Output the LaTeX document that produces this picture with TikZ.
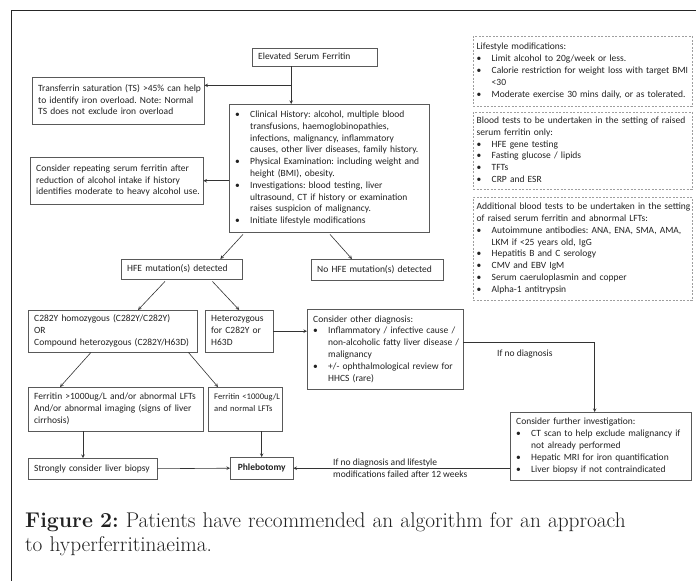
\documentclass[tikz,border=0pt]{standalone}
\usepackage{fontspec}
\newfontfamily\calibri{Carlito}
\usetikzlibrary{arrows}
\frenchspacing
\definecolor{boxline}{gray}{0.35}
\definecolor{dashline}{gray}{0.62}
\definecolor{inktext}{gray}{0.13}
\tikzstyle{process} = [
    rectangle,
    anchor=north west,
    align=left,
    inner xsep=6pt,
    inner ysep=1pt,
    draw=boxline,
    text=inktext,
    font=\calibri\fontsize{9.5}{11.8}\selectfont
]
\tikzstyle{notebox} = [
    process,
    inner xsep=3.5pt,
    draw=dashline,
    dash pattern=on 2pt off 1.5pt
]
\tikzstyle{labeltext} = [
    inner sep=0pt,
    align=left,
    text=inktext,
    font=\calibri\fontsize{9.5}{11.8}\selectfont
]
\tikzstyle{captiontext} = [
    anchor=north west,
    inner sep=0pt,
    align=left,
    text width=670pt,
    text=inktext,
    font=\fontsize{21.3}{24.5}\selectfont
]
\tikzstyle{arrow} = [->,>=stealth,draw=black!80,line width=0.6pt]
\newcommand{\bitem}{\makebox[15pt][l]{\textbullet}}
\newcommand{\bcont}{\hspace*{15pt}}
\newcommand{\boxlines}[1]{\begin{tabular}{@{}l@{}}#1\end{tabular}}

\begin{document}
\begin{tikzpicture}[x=1pt,y=-1pt]
\useasboundingbox (0,0) rectangle (696,581);
\draw [line width=1pt, black!85] (696,10) -- (11,10) -- (11,581);

\node (elevated) [process, text width=113pt, minimum height=18pt] at (252,48)
{\boxlines{Elevated Serum Ferritin}};

\node (transferrin) [process, text width=160pt, minimum height=47pt] at (32,77)
{\boxlines{Transferrin saturation (TS) >45\% can help\\to identify iron overload. Note: Normal\\TS does not exclude iron overload}};

\node (clinical) [process, text width=188pt, minimum height=128pt] at (229,104)
{\boxlines{\bitem Clinical History: alcohol, multiple blood\\\bcont transfusions, haemoglobinopathies,\\\bcont infections, malignancy, inflammatory\\\bcont causes, other liver diseases, family history.\\\bitem Physical Examination: including weight and\\\bcont height (BMI), obesity.\\\bitem Investigations: blood testing, liver\\\bcont ultrasound, CT if history or examination\\\bcont raises suspicion of malignancy.\\\bitem Initiate lifestyle modifications}};

\node (repeat) [process, text width=161pt, minimum height=47pt] at (30,157)
{\boxlines{Consider repeating serum ferritin after\\reduction of alcohol intake if history\\identifies moderate to heavy alcohol use.}};

\node (hfe) [process, text width=109pt, minimum height=20pt] at (121,259)
{\boxlines{HFE mutation(s) detected}};

\node (nohfe) [process, text width=120pt, minimum height=21pt] at (311,259)
{\boxlines{No HFE mutation(s) detected}};

\node (c282y) [process, text width=157pt, minimum height=42pt] at (28,310)
{\boxlines{C282Y homozygous (C282Y/C282Y)\\OR\\Compound heterozygous (C282Y/H63D)}};

\node (het) [process, text width=56pt, minimum height=42pt] at (205,310)
{\boxlines{Heterozygous\\for C282Y or\\H63D}};

\node (other) [process, text width=144pt, minimum height=80pt] at (307,309)
{\boxlines{Consider other diagnosis:\\\bitem Inflammatory / infective cause /\\\bcont non-alcoholic fatty liver disease /\\\bcont malignancy\\\bitem +/- ophthalmological review for\\\bcont HHCS (rare)}};

\node (gt1000) [process, text width=163pt, minimum height=44pt] at (28,387)
{\boxlines{Ferritin >1000ug/L and/or abnormal LFTs\\And/or abnormal imaging (signs of liver\\cirrhosis)}};

\node (lt1000) [process, text width=62pt, minimum height=44pt,
    font=\calibri\fontsize{8.6}{11.8}\selectfont] at (208,387)
{\boxlines{Ferritin <1000ug/L\\and normal LFTs\\\mbox{}}};

\node (biopsy) [process, text width=117pt, minimum height=21pt] at (28,458)
{\boxlines{Strongly consider liver biopsy}};

\node (phleb) [process, align=center, text width=51pt, minimum height=22pt] at (230,457)
{\boxlines{\textbf{Phlebotomy}}};

\node (further) [process, text width=169pt, minimum height=68pt] at (510,412)
{\boxlines{Consider further investigation:\\\bitem CT scan to help exclude malignancy if\\\bcont not already performed\\\bitem Hepatic MRI for iron quantification\\\bitem Liver biopsy if not contraindicated}};

% dashed notes on the right
\node (lifestyle) [notebox, text width=212pt, minimum height=70pt] at (473,36)
{\boxlines{Lifestyle modifications:\\\bitem Limit alcohol to 20g/week or less.\\\bitem Calorie restriction for weight loss with target BMI\\\bcont <30\\\bitem Moderate exercise 30 mins daily, or as tolerated.}};

\node (bloodtests) [notebox, text width=212pt, minimum height=77pt] at (473,112)
{\boxlines{Blood tests to be undertaken in the setting of raised\\serum ferritin only:\\\bitem HFE gene testing\\\bitem Fasting glucose / lipids\\\bitem TFTs\\\bitem CRP and ESR}};

\node (extratests) [notebox, text width=212pt, minimum height=103pt] at (473,197)
{\boxlines{Additional blood tests to be undertaken in the setting\\of raised serum ferritin and abnormal LFTs:\\\bitem Autoimmune antibodies: ANA, ENA, SMA, AMA,\\\bcont LKM if <25 years old, IgG\\\bitem Hepatitis B and C serology\\\bitem CMV and EBV IgM\\\bitem Serum caeruloplasmin and copper\\\bitem Alpha-1 antitrypsin}};

\node (nodiag) [labeltext, anchor=west] at (497,354) {If no diagnosis};
\node (failed) [labeltext, anchor=west] at (333,468)
{If no diagnosis and lifestyle\\modifications failed after 12 weeks};

\node (caption) [captiontext] at (25,512)
{\textbf{Figure 2:} Patients have recommended an algorithm for an approach\\to hyperferritinaeima.};

\coordinate (tsbranch) at ([xshift=-23.5pt,yshift=-19pt]elevated.south);
\draw [arrow] ([xshift=-23.5pt]elevated.south) -- ([xshift=-23.5pt]elevated.south |- clinical.north);
\draw [arrow] (tsbranch) -- (tsbranch -| transferrin.east);
\draw [arrow] (clinical.west |- repeat.east) -- (repeat.east);
\draw [arrow] ([xshift=14pt,yshift=-2pt]clinical.south west) -- ([xshift=-22pt]hfe.north east);
\draw [arrow] ([xshift=101pt,yshift=-2pt]clinical.south west) -- ([xshift=41pt]nohfe.north west);
\draw [arrow] ([xshift=44pt,yshift=-2pt]hfe.south west) -- ([xshift=110pt]c282y.north west);
\draw [arrow] ([xshift=-30pt,yshift=-2pt]hfe.south east) -- (het.north);
\draw [arrow] ([xshift=63pt]c282y.south west) -- ([xshift=32pt]gt1000.north west);
\draw [arrow] ([xshift=-9pt]c282y.south east) -- ([xshift=10pt]lt1000.north west);
\draw [arrow] (het.east) -- (het.east -| other.west);
\draw [arrow] ([yshift=7pt]other.east) -| ([xshift=-6pt]further.north);
\draw [arrow] ([xshift=55pt]gt1000.south west) -- ([xshift=55pt]biopsy.north west);
\draw [arrow] (lt1000.south -| phleb.north) -- (phleb.north);
\draw [arrow] (biopsy.east) -- (phleb.west);
\draw [arrow] (further.west |- phleb.east) -- (phleb.east);

\end{tikzpicture}
\end{document}
